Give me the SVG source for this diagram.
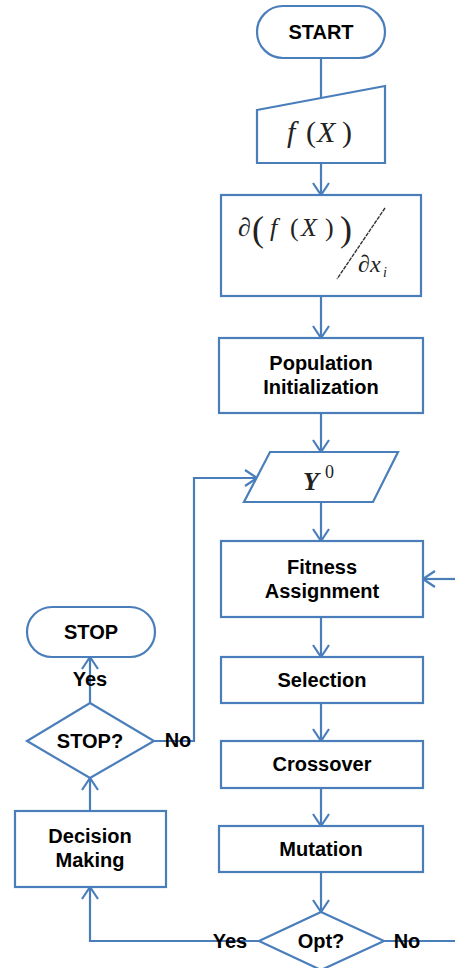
<svg xmlns="http://www.w3.org/2000/svg" width="455" height="968" viewBox="0 0 455 968">
<defs>
<style>
.s{fill:#fff;stroke:#4A7EBB;stroke-width:2.2}
.c{fill:none;stroke:#4A7EBB;stroke-width:2.2}
.t{font-family:"Liberation Sans",Arial,sans-serif;font-weight:bold;font-size:20px;fill:#000;text-anchor:middle}
.m{font-family:"Liberation Serif","Times New Roman",serif;font-style:italic;fill:#222}
.u{font-family:"Liberation Serif","Times New Roman",serif;font-style:normal;fill:#222}
</style>
<marker id="a" markerUnits="userSpaceOnUse" viewBox="0 0 14 18" markerWidth="14" markerHeight="18" refX="13" refY="9" orient="auto">
<path d="M1,1 L13,9 L1,17" fill="none" stroke="#4A7EBB" stroke-width="2.2"/>
</marker>
</defs>
<rect width="455" height="968" fill="#fff"/>
<g id="connectors">
<line class="c" x1="321" y1="58" x2="321" y2="98"/>
<line class="c" x1="321" y1="163" x2="321" y2="195" marker-end="url(#a)"/>
<line class="c" x1="321" y1="296" x2="321" y2="338" marker-end="url(#a)"/>
<line class="c" x1="321" y1="413" x2="321" y2="452" marker-end="url(#a)"/>
<line class="c" x1="321" y1="502" x2="321" y2="541" marker-end="url(#a)"/>
<line class="c" x1="321" y1="617" x2="321" y2="657" marker-end="url(#a)"/>
<line class="c" x1="321" y1="703" x2="321" y2="741" marker-end="url(#a)"/>
<line class="c" x1="321" y1="788" x2="321" y2="826" marker-end="url(#a)"/>
<line class="c" x1="321" y1="872" x2="321" y2="912" marker-end="url(#a)"/>
<line class="c" x1="384" y1="941" x2="455" y2="941"/>
<line class="c" x1="455" y1="579" x2="423" y2="579" marker-end="url(#a)"/>
<polyline class="c" points="259,941 90,941 90,887" marker-end="url(#a)"/>
<line class="c" x1="90" y1="811" x2="90" y2="778" marker-end="url(#a)"/>
<line class="c" x1="90" y1="703" x2="90" y2="657" marker-end="url(#a)"/>
<polyline class="c" points="154,741 194,741 194,478 257,478" marker-end="url(#a)"/>
<text class="t" x="90" y="686">Yes</text>
<text class="t" x="178" y="747">No</text>
<text class="t" x="230" y="948">Yes</text>
<text class="t" x="407" y="948">No</text>
</g>
<g id="start">
<rect class="s" x="257" y="6" width="128" height="52" rx="26"/>
<text class="t" x="321" y="39">START</text>
</g>
<g id="fx">
<polygon class="s" points="257,110 385,86 385,163 257,163"/>
<text class="m" x="287" y="142" font-size="30">f</text>
<text class="u" x="306" y="142" font-size="30">(</text>
<text class="m" x="317" y="142" font-size="30">X</text>
<text class="u" x="342" y="142" font-size="30">)</text>
</g>
<g id="deriv">
<rect class="s" x="221" y="195" width="200" height="101"/>
<text class="u" x="238" y="236" font-size="26">∂</text>
<text class="u" x="252" y="241" font-size="36">(</text>
<text class="m" x="270" y="236" font-size="26">f</text>
<text class="u" x="290" y="236" font-size="26">(</text>
<text class="m" x="301" y="236" font-size="26">X</text>
<text class="u" x="325" y="236" font-size="26">)</text>
<text class="u" x="340" y="241" font-size="36">)</text>
<line x1="385" y1="208" x2="337" y2="279" stroke="#333" stroke-width="1.4" stroke-dasharray="4,1"/>
<text class="u" x="358" y="272" font-size="24">∂</text>
<text class="m" x="370" y="272" font-size="24">x</text>
<text class="m" x="383" y="277" font-size="14">i</text>
</g>
<g id="population">
<rect class="s" x="219" y="338" width="204" height="75"/>
<text class="t" x="321" y="370">Population</text>
<text class="t" x="321" y="394">Initialization</text>
</g>
<g id="y0">
<polygon class="s" points="270,452 398,452 373,502 244,502"/>
<text class="m" x="303" y="490" font-size="26" font-weight="bold">Y</text>
<text class="u" x="325" y="478" font-size="18">0</text>
</g>
<g id="fitness">
<rect class="s" x="221" y="541" width="202" height="76"/>
<text class="t" x="322" y="574">Fitness</text>
<text class="t" x="322" y="598">Assignment</text>
</g>
<g id="selection">
<rect class="s" x="221" y="657" width="202" height="46"/>
<text class="t" x="322" y="687">Selection</text>
</g>
<g id="crossover">
<rect class="s" x="221" y="741" width="202" height="47"/>
<text class="t" x="322" y="771">Crossover</text>
</g>
<g id="mutation">
<rect class="s" x="219" y="826" width="204" height="46"/>
<text class="t" x="321" y="856">Mutation</text>
</g>
<g id="opt">
<polygon class="s" points="321,912 384,941 321,970 259,941"/>
<text class="t" x="321" y="948">Opt?</text>
</g>
<g id="decision">
<rect class="s" x="15" y="811" width="151" height="76"/>
<text class="t" x="90" y="843">Decision</text>
<text class="t" x="90" y="867">Making</text>
</g>
<g id="stopq">
<polygon class="s" points="90,703 154,741 90,778 27,741"/>
<text class="t" x="90" y="748">STOP?</text>
</g>
<g id="stop">
<rect class="s" x="27" y="607" width="128" height="50" rx="25"/>
<text class="t" x="91" y="639">STOP</text>
</g>
</svg>
